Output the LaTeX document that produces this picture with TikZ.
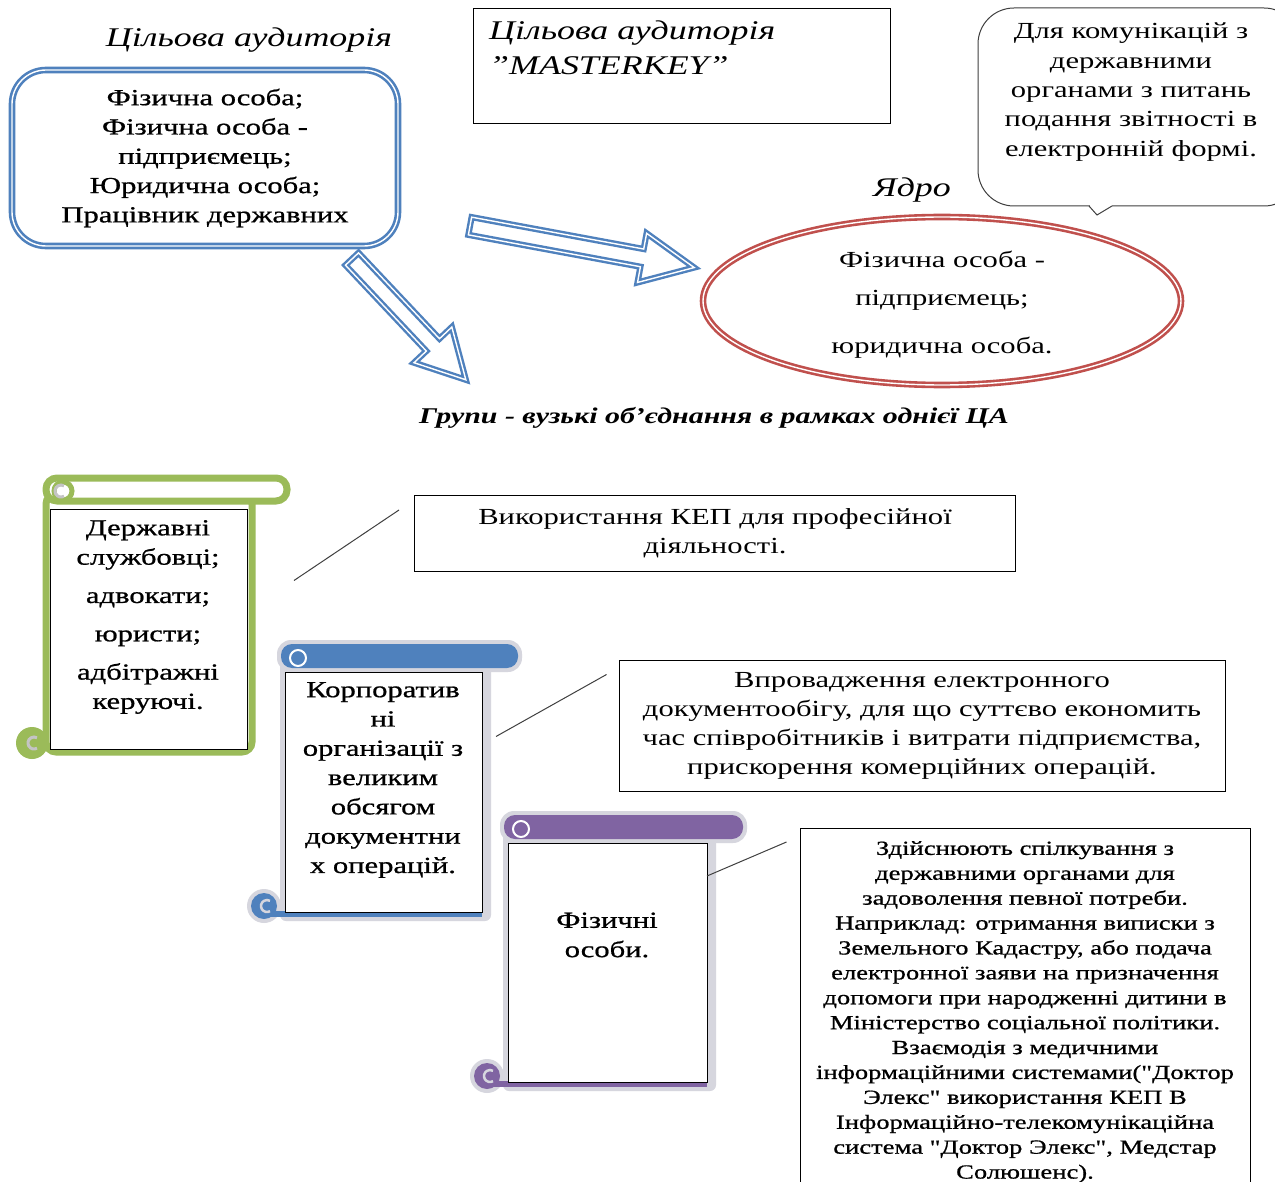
\documentclass[tikz,border=0pt]{standalone}
\usepackage{fontspec}
\setmainfont{Liberation Serif}[FakeStretch=1.33]
\newfontfamily\heavyserif{Liberation Serif}[FakeStretch=1.33, FakeBold=0.8]
\usetikzlibrary{shapes.geometric, positioning}

\definecolor{ofblue}{HTML}{4F81BD}
\definecolor{ofred}{HTML}{C0504D}
\definecolor{ofgreen}{HTML}{9BBB59}
\definecolor{ofpurple}{HTML}{8064A2}
\definecolor{rimgrey}{HTML}{D6D6DE}
\definecolor{curlgrey}{HTML}{C4C4C4}

\newcommand{\dq}{\char34 }

\tikzset{
  twinblue/.style={draw=ofblue, line width=2.6pt, double=white, double distance=1.4pt},
  twinred/.style={draw=ofred, line width=2.6pt, double=white, double distance=1.4pt},
  hollowarrow/.style={draw=ofblue, line width=2.4pt, double=white, double distance=1.4pt, line join=miter},
  txt/.style={align=center, inner sep=0pt, font=\fontsize{23}{29.3}\selectfont},
  heavytxt/.style={align=center, inner sep=0pt, font=\heavyserif\fontsize{23}{29.3}\selectfont},
  script/.style={inner sep=0pt, font=\fontsize{27}{35}\selectfont\itshape},
  notebox/.style={draw, line width=1pt, align=center, inner sep=0pt, font=\fontsize{23}{29}\selectfont},
  page/.style={draw, line width=1pt, fill=white, inner sep=0pt, anchor=north west},
  leader/.style={draw=black!75, line width=1pt}
}

% scroll with coloured rolls: name, x, y, width, height, colour
\newcommand{\scrollfill}[6]{%
  \fill[rimgrey, rounded corners=14] (#2-8,#3-32) rectangle (#2+#4+40,#3);
  \fill[rimgrey, rounded corners=6] (#2-5,#3-10) rectangle (#2+#4+9,#3+#5+9);
  \fill[rimgrey] (#2-21,#3+#5-6) circle (17);
  \fill[#6, rounded corners=11] (#2-4,#3-28) rectangle (#2+#4+36,#3-4);
  \fill[#6] (#2-21,#3+#5-6) circle (13);
  \fill[#6] (#2-21,#3+#5-1) rectangle (#2+#4,#3+#5+5);
  \draw[white, line width=2] (#2+13,#3-14) circle (8);
  \draw[rimgrey, line width=2.5] (#2-18+3,#3+#5-6+5.2) arc[start angle=60, end angle=300, radius=6];
  \node[page, minimum width=#4, minimum height=#5] (#1) at (#2,#3) {};
}

% scroll drawn as an outline: name, x, y, width, height, colour
\newcommand{\scrollline}[6]{%
  \draw[#6, line width=7, fill=white, rounded corners=10] (#2-4,#3-15) rectangle (#2+#4+5,#3+#5+3);
  \fill[#6] (#2-18,#3+#5-6) circle (16);
  \draw[#6, line width=7, fill=white, rounded corners=11] (#2-4,#3-31) rectangle (#2+#4+40,#3-8);
  \draw[#6, line width=5] (#2+13,#3-18) circle (9);
  \draw[curlgrey, line width=3] (#2+11+3,#3-18+5.2) arc[start angle=60, end angle=300, radius=6];
  \draw[curlgrey, line width=3] (#2-16+3,#3+#5-6+5.2) arc[start angle=60, end angle=300, radius=6];
  \node[page, minimum width=#4, minimum height=#5] (#1) at (#2,#3) {};
}

\begin{document}
\begin{tikzpicture}[x=1pt, y=-1pt]
\useasboundingbox (0,0) rectangle (1275,1182);
\fill[white] (0,0) rectangle (1275,1182);
\clip (0,0) rectangle (1275,1182);

% target audience
\node[script] (audtitle) at (249,40) {Цільова аудиторія};
\node[twinblue, fill=white, rounded corners=34, minimum width=386, minimum height=176, heavytxt] (audbox) at (205,158)
  {Фізична особа;\\Фізична особа -\\підприємець;\\Юридична особа;\\Працівник державних};

\node[draw, line width=1pt, minimum width=417, minimum height=115, anchor=north west] (mkbox) at (473,8) {};
\node[script, anchor=north west, align=left] (mktitle) at ([shift={(16,13)}]mkbox.north west)
  {Цільова аудиторія\\\dq MASTERKEY\dq};

% callout
\draw[line width=1pt, black!75, fill=white, rounded corners=36] (978,8) rectangle (1300,206);
\fill[white] (1090,205) rectangle (1112,207);
\draw[line width=1pt, black!75, line join=miter] (1089,206) -- (1097,215) -- (1112,206);
\node[txt] (bubble) at (1131,92)
  {Для комунікацій з\\державними\\органами з питань\\подання звітності в\\електронній формі.};

% core
\node[script] (coretitle) at (912,190) {Ядро};
\node[ellipse, twinred, fill=white, minimum width=478, minimum height=168, inner sep=0pt] (core) at (942,301) {};
\node[align=center, inner sep=0pt, font=\fontsize{23}{38}\selectfont] (coretext) at ([yshift=-4]core.center)
  {Фізична особа -\\підприємець;\\[10pt]юридична особа.};

% block arrows
\draw[hollowarrow, shift={(470,226)}, rotate=-10.5]
  (0,-9) -- (175,-9) -- (175,-25) -- (228,0) -- (175,25) -- (175,9) -- (0,9) -- cycle;
\draw[hollowarrow, shift={(352,259)}, rotate=-46.7]
  (0,-9) -- (118,-9) -- (118,-26) -- (166,0) -- (118,26) -- (118,9) -- (0,9) -- cycle;

\node[inner sep=0pt, font=\fontsize{22.5}{29}\selectfont\bfseries\itshape] (grphead) at (714,418)
  {Групи - вузькі об'єднання в рамках однієї ЦА};

% groups
\scrollline{pageA}{50}{509}{197}{240}{ofgreen}
\scrollfill{pageB}{285}{672}{197}{240}{ofblue}
\scrollfill{pageC}{508}{843}{199}{239}{ofpurple}

\node[heavytxt] (grpA) at (148,617) {Державні\\службовці;\\[9pt]адвокати;\\[9pt]юристи;\\[9pt]адбітражні\\керуючі.};
\node[heavytxt] (grpB) at (383,780) {Корпоратив\\ні\\організації з\\великим\\обсягом\\документни\\х операцій.};
\node[heavytxt] (grpC) at (607,935) {Фізичні\\особи.};

% uses
\node[notebox, minimum width=601, minimum height=76] (useA) at (715,533)
  {Використання КЕП для професійної\\діяльності.};
\node[notebox, minimum width=606, minimum height=131] (useB) at (922,725.5)
  {Впровадження електронного\\документообігу, для що суттєво економить\\час співробітників і витрати підприємства,\\прискорення комерційних операцій.};
\node[notebox, minimum width=450, minimum height=368, font=\heavyserif\fontsize{20}{24.9}\selectfont] (useC) at (1025,1012)
  {Здійснюють спілкування з\\державними органами для\\задоволення певної потреби.\\Наприклад: отримання виписки з\\Земельного Кадастру, або подача\\електронної заяви на призначення\\допомоги при народженні дитини в\\Міністерство соціальної політики.\\Взаємодія з медичними\\інформаційними системами(\dq Доктор\\Элекс\dq{} використання КЕП В\\Інформаційно-телекомунікаційна\\система \dq Доктор Элекс\dq, Медстар\\Солюшенс).};

\draw[leader] ([shift={(46,-49)}]pageA.east) -- ([shift={(-15,-23)}]useA.west);
\draw[leader] ([shift={(13,-56)}]pageB.east) -- ([shift={(-12,-51)}]useB.west);
\draw[leader] ([shift={(-1,-87)}]pageC.east) -- ([shift={(-13,-170)}]useC.west);

\end{tikzpicture}
\end{document}
